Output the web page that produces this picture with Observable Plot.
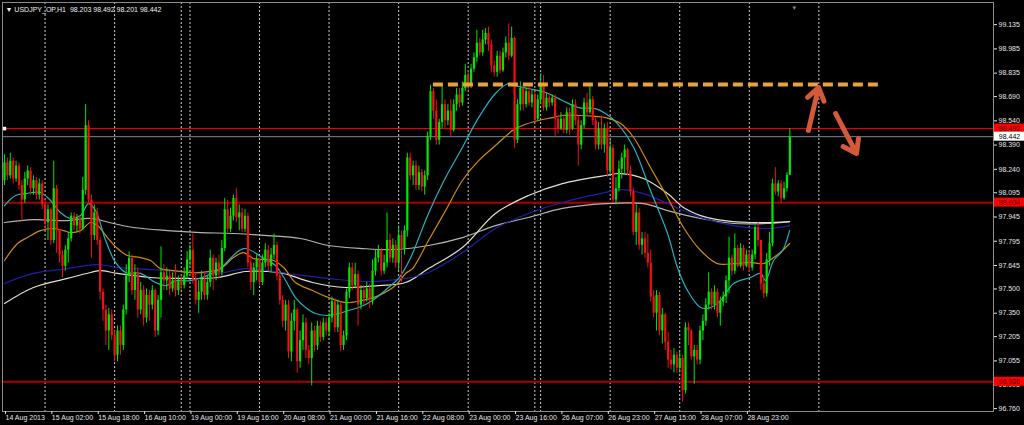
<!DOCTYPE html>
<html><head><meta charset="utf-8">
<script src="https://cdn.jsdelivr.net/npm/d3@7"></script>
<script src="https://cdn.jsdelivr.net/npm/@observablehq/plot@0.6"></script>
<style>html,body{margin:0;padding:0;background:#000;overflow:hidden}</style>
</head><body><div id="chart"></div>
<script>
// ---------- data ----------
const symbol = "USDJPY_OP,H1";
const open = [
98.17,98.28,98.20,98.29,98.18,98.26,98.14,98.05,98.18,98.23,
98.12,98.17,98.08,98.15,98.02,97.91,97.99,97.80,98.12,97.86,
97.71,97.64,97.74,97.81,97.95,97.89,97.94,97.87,98.11,98.51,
98.05,97.83,97.97,97.80,97.48,97.37,97.24,97.34,97.21,97.09,
97.24,97.15,97.37,97.58,97.69,97.49,97.60,97.37,97.49,97.32,
97.46,97.40,97.49,97.24,97.43,97.60,97.55,97.58,97.50,97.55,
97.49,97.55,97.52,97.58,97.68,97.74,97.56,97.43,97.48,97.56,
97.46,97.54,97.69,97.58,97.66,97.60,97.75,97.99,97.87,97.95,
98.06,97.94,97.97,97.87,97.95,97.66,97.54,97.63,97.68,97.54,
97.66,97.74,97.64,97.71,97.77,97.58,97.43,97.30,97.40,97.11,
97.30,97.37,97.05,97.18,97.29,97.12,97.07,97.24,97.15,97.27,
97.20,97.29,97.24,97.32,97.42,97.26,97.40,97.15,97.21,97.48,
97.63,97.52,97.59,97.40,97.49,97.44,97.50,97.43,97.61,97.69,
97.74,97.61,97.66,97.80,97.69,97.77,97.66,97.83,97.75,97.86,
98.31,98.20,98.26,98.14,98.22,98.13,98.20,98.44,98.72,98.60,
98.42,98.53,98.64,98.54,98.60,98.48,98.64,98.70,98.65,98.74,
98.82,98.76,98.86,98.93,99.02,98.96,99.04,99.08,99.01,98.88,
98.84,98.94,98.85,98.96,99.02,98.94,99.05,98.42,98.64,98.74,
98.64,98.72,98.65,98.70,98.55,98.67,98.76,98.62,98.68,98.65,
98.68,98.55,98.49,98.55,98.48,98.59,98.49,98.64,98.54,98.39,
98.51,98.65,98.59,98.67,98.54,98.39,98.49,98.39,98.49,98.23,
98.37,98.05,98.12,98.24,98.31,98.36,98.23,98.10,97.85,97.97,
97.77,97.81,97.72,97.66,97.45,97.35,97.46,97.24,97.34,97.17,
97.06,97.03,97.09,97.01,97.07,96.87,97.26,97.24,97.08,97.12,
97.06,97.24,97.30,97.40,97.48,97.40,97.48,97.35,97.42,97.45,
97.55,97.69,97.61,97.75,97.64,97.75,97.64,97.71,97.63,97.71,
97.88,97.80,97.53,97.47,97.68,97.78,98.15,98.10,98.15,98.06,
98.12,98.203];
const high = [
98.33,98.31,98.34,98.31,98.29,98.28,98.17,98.22,98.26,98.25,
98.20,98.19,98.18,98.17,98.05,98.02,98.00,98.29,98.14,97.87,
97.74,97.77,97.85,97.97,97.97,97.96,97.95,98.19,98.64,98.54,
98.08,98.02,98.00,97.82,97.50,97.40,97.38,97.37,97.24,97.27,
97.27,97.40,97.65,97.73,97.71,97.65,97.63,97.54,97.52,97.50,
97.49,97.52,97.50,97.46,97.76,97.65,97.63,97.61,97.60,97.65,
97.58,97.58,97.63,97.73,97.77,97.84,97.60,97.55,97.61,97.60,
97.58,97.74,97.71,97.69,97.71,97.80,98.06,98.05,98.00,98.08,
98.12,98.02,98.00,97.99,97.97,97.71,97.66,97.71,97.69,97.71,
97.78,97.77,97.75,97.84,97.79,97.61,97.46,97.43,97.43,97.35,
97.43,97.38,97.24,97.34,97.32,97.15,97.29,97.27,97.30,97.30,
97.32,97.32,97.35,97.45,97.44,97.43,97.42,97.24,97.50,97.66,
97.66,97.66,97.61,97.52,97.52,97.54,97.53,97.68,97.74,97.77,
97.75,97.71,97.97,97.84,97.81,97.80,97.89,97.86,97.89,98.34,
98.34,98.29,98.29,98.26,98.24,98.23,98.47,98.76,98.74,98.67,
98.55,98.76,98.67,98.64,98.67,98.67,98.74,98.74,98.78,98.89,
98.85,98.89,98.96,99.10,99.05,99.10,99.11,99.12,99.04,98.91,
98.97,98.97,98.99,99.06,99.14,99.12,99.06,98.67,98.78,98.76,
98.74,98.75,98.73,98.72,98.70,98.83,98.82,98.71,98.71,98.70,
98.70,98.57,98.59,98.58,98.62,98.62,98.67,98.67,98.57,98.54,
98.68,98.71,98.75,98.69,98.56,98.53,98.57,98.52,98.53,98.42,
98.39,98.19,98.29,98.34,98.39,98.37,98.26,98.12,98.02,98.00,
97.85,97.85,97.84,97.74,97.49,97.49,97.48,97.38,97.35,97.23,
97.12,97.13,97.11,97.11,97.09,97.29,97.29,97.25,97.15,97.15,
97.27,97.34,97.44,97.60,97.50,97.52,97.50,97.45,97.48,97.58,
97.82,97.71,97.84,97.77,97.78,97.77,97.74,97.74,97.74,97.89,
97.91,97.80,97.58,97.72,97.85,98.18,98.25,98.17,98.17,98.16,
98.22,98.492];
const low = [
98.14,98.17,98.18,98.15,98.16,98.11,97.92,98.03,98.14,98.08,
98.08,98.05,98.05,97.99,97.87,97.80,97.77,97.78,97.72,97.66,
97.57,97.61,97.66,97.79,97.86,97.85,97.84,97.86,98.08,98.02,
97.69,97.80,97.77,97.43,97.30,97.15,97.12,97.18,97.05,97.05,
97.09,97.12,97.34,97.54,97.46,97.43,97.32,97.34,97.27,97.29,
97.30,97.37,97.20,97.21,97.32,97.49,97.49,97.46,97.48,97.45,
97.46,97.49,97.50,97.56,97.64,97.53,97.40,97.35,97.43,97.43,
97.43,97.51,97.49,97.55,97.56,97.58,97.73,97.85,97.85,97.92,
97.91,97.86,97.85,97.85,97.63,97.49,97.46,97.55,97.52,97.52,
97.63,97.61,97.60,97.68,97.55,97.40,97.26,97.24,97.07,97.05,
97.24,96.98,97.01,97.12,97.07,97.03,96.90,97.11,97.12,97.17,
97.18,97.21,97.21,97.29,97.23,97.23,97.11,97.12,97.18,97.44,
97.49,97.50,97.27,97.37,97.40,97.42,97.38,97.40,97.58,97.66,
97.58,97.59,97.63,97.66,97.66,97.63,97.61,97.54,97.71,97.82,
98.17,98.14,98.11,98.11,98.10,98.08,98.17,98.42,98.55,98.39,
98.39,98.49,98.49,98.51,98.44,98.47,98.60,98.62,98.63,98.72,
98.73,98.74,98.84,98.90,98.94,98.94,99.01,98.97,98.84,98.81,
98.81,98.83,98.84,98.93,98.91,98.93,98.37,98.40,98.60,98.60,
98.62,98.63,98.62,98.53,98.54,98.64,98.60,98.60,98.62,98.63,
98.44,98.46,98.48,98.46,98.46,98.45,98.48,98.51,98.26,98.36,
98.49,98.57,98.58,98.51,98.36,98.36,98.36,98.34,98.19,98.20,
98.03,98.02,98.10,98.18,98.21,98.20,98.07,97.83,97.77,97.74,
97.71,97.69,97.63,97.42,97.32,97.24,97.21,97.16,97.12,97.01,
97.00,96.98,96.98,96.98,96.80,96.85,97.15,97.06,96.91,97.03,
97.03,97.18,97.27,97.37,97.37,97.37,97.32,97.27,97.39,97.41,
97.47,97.58,97.59,97.63,97.63,97.61,97.63,97.60,97.61,97.68,
97.76,97.49,97.44,97.45,97.64,97.76,98.08,98.07,98.03,98.05,
98.10,98.201];
const close = [
98.28,98.20,98.29,98.18,98.26,98.14,98.05,98.18,98.23,98.12,
98.17,98.08,98.15,98.02,97.91,97.99,97.80,98.12,97.86,97.71,
97.64,97.74,97.81,97.95,97.89,97.94,97.87,98.11,98.51,98.05,
97.83,97.97,97.80,97.48,97.37,97.24,97.34,97.21,97.09,97.24,
97.15,97.37,97.58,97.69,97.49,97.60,97.37,97.49,97.32,97.46,
97.40,97.49,97.24,97.43,97.60,97.55,97.58,97.50,97.55,97.49,
97.55,97.52,97.58,97.68,97.74,97.56,97.43,97.48,97.56,97.46,
97.54,97.69,97.58,97.66,97.60,97.75,97.99,97.87,97.95,98.06,
97.94,97.97,97.87,97.95,97.66,97.54,97.63,97.68,97.54,97.66,
97.74,97.64,97.71,97.77,97.58,97.43,97.30,97.40,97.11,97.30,
97.37,97.05,97.18,97.29,97.12,97.07,97.24,97.15,97.27,97.20,
97.29,97.24,97.32,97.42,97.26,97.40,97.15,97.21,97.48,97.63,
97.52,97.59,97.40,97.49,97.44,97.50,97.43,97.61,97.69,97.74,
97.61,97.66,97.80,97.69,97.77,97.66,97.83,97.75,97.86,98.31,
98.20,98.26,98.14,98.22,98.13,98.20,98.44,98.72,98.60,98.42,
98.53,98.64,98.54,98.60,98.48,98.64,98.70,98.65,98.74,98.82,
98.76,98.86,98.93,99.02,98.96,99.04,99.08,99.01,98.88,98.84,
98.94,98.85,98.96,99.02,98.94,99.05,98.42,98.64,98.74,98.64,
98.72,98.65,98.70,98.55,98.67,98.76,98.62,98.68,98.65,98.68,
98.55,98.49,98.55,98.48,98.59,98.49,98.64,98.54,98.39,98.51,
98.65,98.59,98.67,98.54,98.39,98.49,98.39,98.49,98.23,98.37,
98.05,98.12,98.24,98.31,98.36,98.23,98.10,97.85,97.97,97.77,
97.81,97.72,97.66,97.45,97.35,97.46,97.24,97.34,97.17,97.06,
97.03,97.09,97.01,97.07,96.87,97.26,97.24,97.08,97.12,97.06,
97.24,97.30,97.40,97.48,97.40,97.48,97.35,97.42,97.45,97.55,
97.69,97.61,97.75,97.64,97.75,97.64,97.71,97.63,97.71,97.88,
97.80,97.53,97.47,97.68,97.78,98.15,98.10,98.15,98.06,98.12,
98.203,98.442];

// moving averages: [bar, price]
const maCyan = [[0,98.016],[3.8,98.078],[7.2,98.090],[12.4,98.097],[15.9,98.047],[19.3,97.973],[22.8,97.936],[26.2,97.954],[29,98.028],[31.4,97.985],[34.9,97.800],[38.3,97.664],[41.8,97.602],[46.9,97.596],[52.1,97.540],[55.6,97.521],[59,97.552],[64.2,97.552],[73.5,97.614],[82.5,97.750],[89,97.694],[93.5,97.645],[97,97.552],[100.4,97.447],[103.9,97.385],[107.3,97.348],[111.8,97.336],[115.3,97.348],[118.7,97.367],[122.2,97.385],[127,97.429],[132.5,97.509],[136,97.565],[138.4,97.633],[140.8,97.719],[146.3,97.967],[152.2,98.189],[158,98.375],[163.6,98.560],[169.4,98.709],[173.9,98.771],[176.3,98.758],[180.8,98.740],[186.7,98.715],[192.5,98.666],[198.1,98.622],[203.9,98.616],[207.4,98.585],[211.5,98.523],[217.1,98.375],[222.9,98.109],[228.8,97.843],[232.2,97.633],[235.7,97.490],[240.2,97.385],[243.6,97.385],[247.1,97.429],[251.6,97.534],[257.4,97.571],[260.9,97.596],[262.6,97.552],[265.4,97.676],[268.5,97.738],[270.9,97.861]];
const maOrange = [[0,97.676],[4.5,97.781],[7.9,97.818],[12.4,97.861],[16.9,97.874],[20.4,97.861],[22.8,97.849],[26.2,97.861],[29.7,97.911],[32.1,97.892],[35.5,97.818],[39,97.750],[42.4,97.707],[46.9,97.694],[50.4,97.676],[53.8,97.626],[58.3,97.614],[63.1,97.602],[67.6,97.602],[74.5,97.626],[79,97.694],[82.5,97.725],[85.9,97.688],[92.8,97.676],[96.3,97.633],[100.4,97.540],[106.3,97.490],[111.8,97.447],[117.7,97.416],[123.5,97.429],[129.1,97.459],[134.9,97.521],[138.4,97.596],[140.8,97.626],[146.3,97.800],[152.2,97.985],[158,98.171],[163.6,98.294],[169.4,98.387],[175.3,98.480],[178.7,98.511],[184.3,98.542],[189.1,98.560],[192.5,98.573],[198.1,98.573],[203.9,98.567],[207.4,98.560],[212.6,98.523],[217.1,98.437],[222.9,98.251],[228.8,98.066],[234.3,97.880],[240.2,97.738],[246,97.657],[251.6,97.657],[257.4,97.664],[261.9,97.657],[265.4,97.694],[268.5,97.738],[270.9,97.781]];
const maSlowGray = [[0,97.911],[10,97.929],[21.7,97.923],[29.7,97.936],[37.6,97.905],[44.5,97.880],[56.2,97.861],[67.6,97.849],[79,97.843],[90.8,97.830],[102.1,97.812],[111.8,97.769],[123.5,97.750],[134.9,97.744],[146.3,97.769],[158,97.818],[169.4,97.892],[180.8,97.942],[192.5,97.998],[207.4,98.028],[220.5,98.028],[228.8,97.985],[240.2,97.936],[251.6,97.905],[263.3,97.905],[270.9,97.917]];
const maWhite = [[0,97.410],[10,97.509],[21.7,97.565],[29.7,97.602],[33.1,97.614],[39,97.596],[50.4,97.571],[61.8,97.565],[73.5,97.571],[83.2,97.608],[90.8,97.608],[96.3,97.596],[106.3,97.540],[117.7,97.509],[129.1,97.521],[138.4,97.540],[146.3,97.626],[158,97.756],[169.4,97.967],[180.8,98.078],[192.5,98.152],[207.4,98.202],[212.6,98.214],[220.5,98.183],[228.8,98.090],[234.3,98.004],[240.2,97.954],[246,97.929],[257.4,97.911],[270.9,97.917]];
const maNavy = [[0,97.534],[10,97.596],[21.7,97.626],[32.1,97.651],[39,97.633],[56.2,97.614],[73.5,97.596],[83.2,97.626],[100.4,97.589],[111.8,97.565],[123.5,97.546],[138.4,97.565],[146.3,97.602],[158,97.725],[169.4,97.874],[180.8,97.967],[192.5,98.035],[207.4,98.097],[212.6,98.115],[220.5,98.090],[228.8,98.028],[240.2,97.942],[251.6,97.892],[263.3,97.874],[270.9,97.892]];

const timeTickBars = [0,16,32,48,64,80,96,112,128,144,160,176,192,208,224,240,256];
const timeLabels = ["14 Aug 2013","15 Aug 02:00","15 Aug 18:00","16 Aug 10:00","19 Aug 00:00","19 Aug 16:00","20 Aug 08:00","21 Aug 00:00","21 Aug 16:00","22 Aug 08:00","23 Aug 00:00","23 Aug 16:00","26 Aug 07:00","26 Aug 23:00","27 Aug 15:00","28 Aug 07:00","28 Aug 23:00"];
const priceTicks = [99.135,98.985,98.835,98.690,98.540,98.390,98.240,98.095,97.945,97.795,97.645,97.500,97.350,97.205,97.055,96.905,96.760];
const daySeparators = [14,38,61,64,88,112,136,160,183,185,209,233,257,281];

const alertLevel = 98.492;
const bidPrice = 98.442;
const supportLevels = [98.034, 96.926];
const resistancePrice = 98.765;
const resistanceBars = [148, 301.6];
const arrowsX1 = [277.4, 286.8], arrowsY1 = [98.480, 98.585];
const arrowsX2 = [280.9, 294.0], arrowsY2 = [98.746, 98.338];
const labelPrices = [98.492, 98.442, 98.034, 96.926];

// ---------- build ----------
const font = "Liberation Sans, Arial, sans-serif";
const W = 1024, H = 425, mL = 2, mR = 31, mT = 2, mB = 14;
const x0 = -0.69, x1 = 341.27;
const y0 = 96.742, y1 = 99.272;
const kx = (W - mL - mR) / (x1 - x0);
const ky = (H - mT - mB) / (y1 - y0);

const bars = open.map((o, i) => ({i, o, h: high[i], l: low[i], c: close[i]}));
const up = bars.filter(d => d.c >= d.o), dn = bars.filter(d => d.c < d.o);
const GREEN = "#00e800", RED = "#f21010";

const boxes = labelPrices.map((p, j) => ({
  p, t: p.toFixed(3),
  bg: p === bidPrice ? "#ffffff" : "#ff0000",
  fg: p === bidPrice ? "#000000" : "#4a0000"
}));
const bx1 = x1 + 1 / kx, bx2 = x1 + 31 / kx, bh = 4.5 / ky;
const last = bars[bars.length - 1];
const title = "\u25BC " + symbol + "\u00A0\u00A0" + [last.o, last.h, last.l, last.c].map(v => v.toFixed(3)).join(" ");

const arrows = arrowsX1.map((v, j) => ({x1: v, y1: arrowsY1[j], x2: arrowsX2[j], y2: arrowsY2[j]}));

const chart = Plot.plot({
  width: W, height: H,
  marginLeft: mL, marginRight: mR, marginTop: mT, marginBottom: mB,
  style: {background: "#000", color: "#fff", fontFamily: font, overflow: "visible"},
  x: {domain: [x0, x1]},
  y: {domain: [y0, y1]},
  marks: [
    Plot.ruleX(daySeparators, {x: d => d, stroke: "#cfcfcf", strokeDasharray: "2,2", strokeWidth: 1}),
    Plot.ruleY(supportLevels, {y: d => d, stroke: "#a80000", strokeWidth: 2}),
    Plot.ruleY([alertLevel], {y: d => d, x1: 0, x2: x1, stroke: "#ff0000", strokeWidth: 1}),
    Plot.ruleY([bidPrice], {y: d => d, stroke: "#778899", strokeWidth: 1}),
    Plot.line(maSlowGray, {x: d => d[0], y: d => d[1], stroke: "#b4b4ac", strokeWidth: 1.2, curve: "catmull-rom"}),
    Plot.line(maWhite, {x: d => d[0], y: d => d[1], stroke: "#e4e2d0", strokeWidth: 1.2, curve: "catmull-rom"}),
    Plot.line(maNavy, {x: d => d[0], y: d => d[1], stroke: "#1e1ea8", strokeWidth: 1.2, curve: "catmull-rom"}),
    Plot.line(maOrange, {x: d => d[0], y: d => d[1], stroke: "#d08a10", strokeWidth: 1.2, curve: "catmull-rom"}),
    Plot.line(maCyan, {x: d => d[0], y: d => d[1], stroke: "#22b2c2", strokeWidth: 1.2, curve: "catmull-rom"}),
    Plot.ruleX(up, {x: "i", y1: "l", y2: "h", stroke: GREEN, strokeWidth: 1}),
    Plot.ruleX(dn, {x: "i", y1: "l", y2: "h", stroke: RED, strokeWidth: 1}),
    Plot.ruleX(up, {x: "i", y1: "o", y2: "c", stroke: GREEN, strokeWidth: 2.2}),
    Plot.ruleX(dn, {x: "i", y1: "o", y2: "c", stroke: RED, strokeWidth: 2.2}),
    Plot.ruleY([resistancePrice], {y: d => d, x1: resistanceBars[0], x2: resistanceBars[1], stroke: "#e8a33c", strokeWidth: 4, strokeDasharray: "10,5"}),
    Plot.arrow(arrows, {x1: "x1", y1: "y1", x2: "x2", y2: "y2", stroke: "#d4583a", strokeWidth: 5, headLength: 12, headAngle: 70}),
    Plot.dot([alertLevel], {x: 0, y: d => d, symbol: "square", r: 2, fill: "#fff"}),
    Plot.frame({stroke: "#8c8c8c"}),
    Plot.axisY(priceTicks, {anchor: "right", tickSize: 3, tickPadding: 2, tickFormat: d => d.toFixed(3), color: "#e6e6e6", fontSize: 7, fontFamily: font, label: null}),
    Plot.axisX(timeTickBars, {anchor: "bottom", tickSize: 3, tickPadding: 1, tickFormat: d => timeLabels[timeTickBars.indexOf(d)], textAnchor: "start", dx: 1, color: "#e6e6e6", fontSize: 7, fontFamily: font, label: null}),
    Plot.rect(boxes, {x1: bx1, x2: bx2, y1: d => d.p - bh, y2: d => d.p + bh, fill: d => d.bg, clip: false}),
    Plot.text(boxes, {x: (bx1 + bx2) / 2, y: "p", text: "t", fill: d => d.fg, fontSize: 7, fontFamily: font, clip: false}),
    Plot.text([title], {frameAnchor: "top-left", dx: 3, dy: 5, fill: "#f0f0f0", fontSize: 7, fontFamily: font, textAnchor: "start"}),
    Plot.text(["\u25BC"], {x: 272.5, frameAnchor: "top", dy: 3, fill: "#8a8a8a", fontSize: 6})
  ]
});
document.getElementById("chart").appendChild(chart);
</script>
</body></html>
